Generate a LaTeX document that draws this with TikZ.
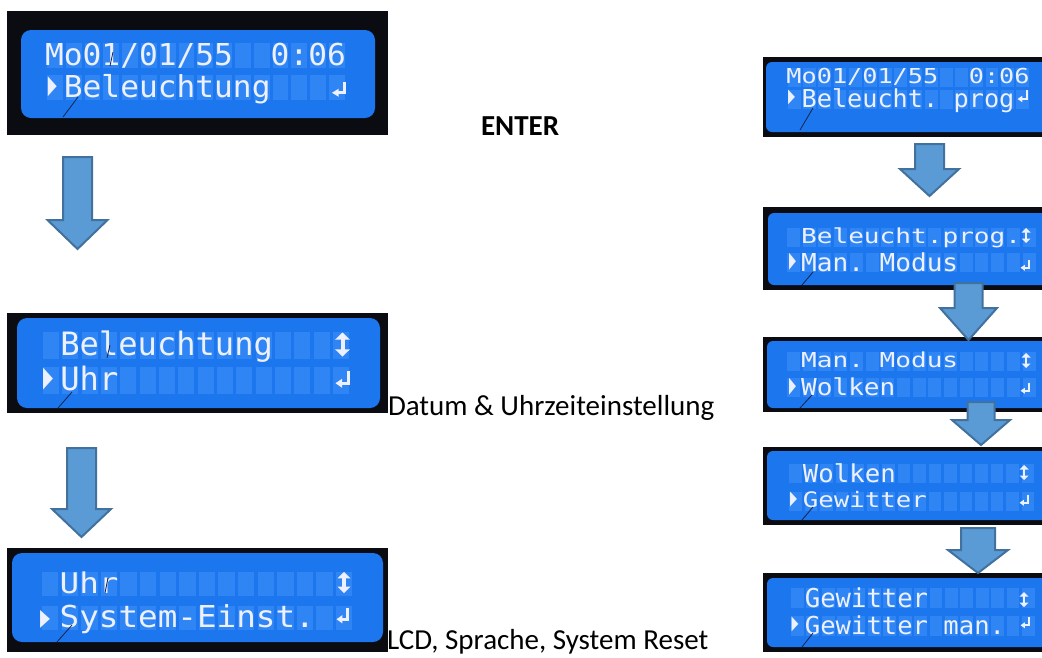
\documentclass[tikz,border=0pt]{standalone}
\usepackage{fontspec}
\usepackage{graphicx}
\setmainfont{Carlito}
\newfontfamily\lcdfont{DejaVu Sans Mono}
\newfontfamily\lcdsym{DejaVu Sans}
\definecolor{bezel}{HTML}{0B0B12}
\definecolor{lcdbg}{HTML}{1C76EE}
\definecolor{lcdcell}{HTML}{2F85F3}
\definecolor{lcdtxt}{HTML}{ECF0FF}
\definecolor{arrowfill}{HTML}{5B9BD5}
\definecolor{arrowline}{HTML}{41719C}
\definecolor{scratchc}{HTML}{14244A}
\def\pnR{8}
% panel: name, bezel x1,y1,x2,y2, screen x1,y1,x2,y2
\newcommand\panel[9]{%
  \node[bezelbox, minimum width={#4-#2}, minimum height={#5-#3}] (#1) at ({(#2+#4)/2},{(#3+#5)/2}) {};
  \node[screenbox, minimum width={#8-#6}, minimum height={#9-#7}] (#1s) at ({(#6+#8)/2},{(#7+#9)/2}) {};}
% cell grid: x0, pitch, cell width, top row1, top row2, cell height
\newcommand\cellgrid[6]{%
  \foreach \c in {0,...,15}{%
    \fill[lcdcell] ({#1+\c*#2},#4) rectangle ++(#3,#6);
    \fill[lcdcell] ({#1+\c*#2},#5) rectangle ++(#3,#6);}}
% lcd text: name, column, baseline, yscale, text
\newcommand\lcdat[5]{%
  \node[lcdtext] (#1) at ({\pnX+#2*\pnP-0.6*\pnS},#3) {\scalebox{\pnS}[#4]{#5}};}
% lcd glyph: name, cx, cy, w, h, glyph
\newcommand\lcdglyph[6]{%
  \node[lcdg] (#1) at (#2,#3) {\resizebox*{#4pt}{#5pt}{\lcdsym #6}};}
% return symbol: cx, cy, w, h, line width
\newcommand\retsym[5]{%
  \draw[lcdline, line width=#5pt] ({#1+#3/2-#5/2},{#2-#4/2}) -- ({#1+#3/2-#5/2},{#2+#4/4})
     -- ({#1-#3/2+#3*0.4},{#2+#4/4});
  \fill[lcdtxt] ({#1-#3/2},{#2+#4/4}) -- ({#1-#3/2+#3*0.48},{#2+#4/4-#4*0.27})
     -- ({#1-#3/2+#3*0.48},{#2+#4/4+#4*0.27}) -- cycle;}
% up-down symbol: cx, cy, w, h, line width
\newcommand\udsym[5]{%
  \fill[lcdtxt] ({#1-#3/2},{#2-#4/2+#4*0.3}) -- (#1,{#2-#4/2}) -- ({#1+#3/2},{#2-#4/2+#4*0.3}) -- cycle;
  \fill[lcdtxt] ({#1-#3/2},{#2+#4/2-#4*0.3}) -- (#1,{#2+#4/2}) -- ({#1+#3/2},{#2+#4/2-#4*0.3}) -- cycle;
  \draw[lcdline, line width=#5pt] (#1,{#2-#4/2+#4*0.25}) -- (#1,{#2+#4/2-#4*0.25});}
% block arrow: cx, top, shaft half width, head y, head half width, tip y
\newcommand\blockarrow[6]{%
  \draw[blockarr] ({#1-#3},#2) -- ({#1+#3},#2) -- ({#1+#3},#4) -- ({#1+#5},#4)
    -- (#1,#6) -- ({#1-#5},#4) -- ({#1-#3},#4) -- cycle;}
\begin{document}
\begin{tikzpicture}[x=1pt,y=-1pt,
  bezelbox/.style={rectangle, fill=bezel, draw=none, inner sep=0pt, outer sep=0pt},
  screenbox/.style={rectangle, fill=lcdbg, draw=none, inner sep=0pt, outer sep=0pt, rounded corners=\pnR},
  lcdtext/.style={anchor=base west, inner sep=0pt, outer sep=0pt, text=lcdtxt, font=\lcdfont\fontsize{10}{12}\selectfont},
  lcdg/.style={anchor=center, inner sep=0pt, outer sep=0pt, text=lcdtxt, font=\fontsize{10}{12}\selectfont},
  lcdline/.style={draw=lcdtxt, line cap=butt, line join=miter},
  scratch/.style={draw=scratchc, line width=0.8pt},
  blockarr/.style={fill=arrowfill, draw=arrowline, line width=2pt, line join=miter},
  lbl/.style={anchor=base west, inner sep=0pt, outer sep=0pt, text=black, font=\fontsize{29}{35}\selectfont}]
\useasboundingbox (0,0) rectangle (1042,657);
\fill[white] (0,0) rectangle (1042,657);

% ---------- Left panel 1 ----------
\def\pnR{10}
\panel{p1}{7}{11}{388}{135}{21}{30}{375}{118}
\cellgrid{47}{18.8}{15.7}{43}{75}{25}
\def\pnX{47}\def\pnP{18.8}\def\pnS{3.12}
\lcdat{p1a}{0}{65}{3.02}{Mo01/01/55}
\lcdat{p1b}{12}{65}{3.02}{0:06}
\lcdat{p1c}{1}{97}{3.02}{Beleuchtung}
\lcdglyph{p1d}{52.5}{87}{9}{20}{▶}
\retsym{339}{89}{14}{15}{3}
\draw[scratch] (78,97) -- (63,117);
\draw[scratch] (113,52) -- (110,66);

% ---------- Left panel 2 ----------
\panel{p2}{7}{313}{388}{413}{17}{318}{380}{408}
\cellgrid{43}{19.33}{16.1}{331.5}{366.5}{27}
\def\pnX{43}\def\pnP{19.33}\def\pnS{3.21}
\lcdat{p2a}{1}{355}{3.22}{Beleuchtung}
\lcdat{p2b}{1}{390}{3.22}{Uhr}
\lcdglyph{p2c}{48}{379}{10}{22}{▶}
\udsym{342.5}{344.5}{15}{24}{4}
\retsym{342.5}{379}{14}{17}{3}
\draw[scratch] (72,392) -- (58,408);
\draw[scratch] (110,345) -- (107,358);

% ---------- Left panel 3 ----------
\panel{p3}{7}{548}{388}{652}{12}{553}{383}{642}
\cellgrid{42}{19.6}{16.3}{572}{606}{24}
\def\pnX{42}\def\pnP{19.6}\def\pnS{3.26}
\lcdat{p3a}{1}{593}{2.85}{Uhr}
\lcdat{p3b}{1}{627}{3.02}{System-Einst.}
\lcdglyph{p3c}{45}{619}{10}{18}{▶}
\udsym{344}{582.5}{13}{21}{4}
\retsym{342.5}{615.5}{12}{15}{3}
\draw[scratch] (72,625) -- (57,642);
\draw[scratch] (108,578) -- (105,593);

% ---------- Right panel 1 ----------
\def\pnR{6}
\panel{r1}{763}{57}{1050}{137}{766}{62}{1050}{132}
\cellgrid{788}{15.2}{12.7}{68}{89.5}{19}
\def\pnX{788}\def\pnP{15.2}\def\pnS{2.52}
\lcdat{r1a}{0}{83}{2.06}{Mo01/01/55}
\lcdat{r1b}{12}{83}{2.06}{0:06}
\lcdat{r1c}{1}{107.5}{2.47}{Beleucht.}
\lcdat{r1d}{11}{107.5}{2.47}{prog}
\lcdglyph{r1e}{791.5}{97.5}{7}{15}{▶}
\retsym{1022.5}{96}{10}{12}{2}
\draw[scratch] (813,108) -- (800,130);

% ---------- Right panel 2 ----------
\panel{r2}{763}{207}{1050}{290}{768}{213}{1050}{285}
\cellgrid{787}{15.7}{13}{228}{253}{19}
\def\pnX{787}\def\pnP{15.7}\def\pnS{2.61}
\lcdat{r2a}{1}{243}{2.06}{Beleucht.prog.}
\lcdat{r2b}{1}{271}{2.47}{Man.}
\lcdat{r2c}{6}{271}{2.47}{Modus}
\lcdglyph{r2d}{792.5}{261.5}{7}{17}{▶}
\udsym{1026}{235.5}{9}{15}{2.5}
\retsym{1025}{265}{9}{11}{2}
\draw[scratch] (813,272) -- (802,285);

% ---------- Right panel 3 ----------
\panel{r3}{763}{337}{1050}{412}{767}{341}{1050}{408}
\cellgrid{787}{15.7}{13}{352}{378}{19}
\def\pnX{787}\def\pnP{15.7}\def\pnS{2.61}
\lcdat{r3a}{1}{367}{2.06}{Man.}
\lcdat{r3b}{6}{367}{2.06}{Modus}
\lcdat{r3c}{1}{395}{2.33}{Wolken}
\lcdglyph{r3d}{792.5}{386.5}{7}{17}{▶}
\udsym{1026}{360.5}{9}{15}{2.5}
\retsym{1025}{388}{9}{11}{2}
\draw[scratch] (812,395) -- (800,408);

% ---------- Right panel 4 ----------
\panel{r4}{763}{447}{1050}{525}{767}{451}{1050}{520}
\cellgrid{789}{15.5}{12.9}{464}{491.5}{19}
\def\pnX{789}\def\pnP{15.5}\def\pnS{2.57}
\lcdat{r4a}{1}{482}{2.47}{Wolken}
\lcdat{r4b}{1}{507}{2.13}{Gewitter}
\lcdglyph{r4c}{793.5}{499.5}{7}{15}{▶}
\udsym{1024}{472.5}{9}{15}{2.5}
\retsym{1024}{500}{9}{11}{2}
\draw[scratch] (813,507) -- (802,520);

% ---------- Right panel 5 ----------
\panel{r5}{763}{573}{1050}{652}{767}{578}{1050}{647}
\cellgrid{791}{15.4}{12.8}{588}{616}{20}
\def\pnX{791}\def\pnP{15.4}\def\pnS{2.56}
\lcdat{r5a}{1}{607}{2.6}{Gewitter}
\lcdat{r5b}{1}{634}{2.47}{Gewitter}
\lcdat{r5c}{10}{634}{2.47}{man.}
\lcdglyph{r5d}{795}{624.5}{7}{15}{▶}
\udsym{1024}{599.5}{9}{15}{2.5}
\retsym{1025}{622.5}{9}{11}{2}
\draw[scratch] (813,633) -- (802,647);

% ---------- Block arrows ----------
\blockarrow{77.5}{157}{14.5}{220}{30}{249}
\blockarrow{81.5}{448}{14.5}{509}{29.5}{537}
\blockarrow{929.5}{144}{14.5}{169}{29.5}{196}
\blockarrow{968.5}{283}{14}{308}{28.5}{340}
\blockarrow{981}{402}{13.5}{420}{29}{445}
\blockarrow{978}{528}{17}{550}{30}{573}

% ---------- Labels ----------
\node[lbl] (enter) at (481,135) {\bfseries ENTER};
\node[lbl] (datum) at (388,415) {Datum \& Uhrzeiteinstellung};
\node[lbl] (lcdset) at (387,649) {LCD, Sprache, System Reset};
\end{tikzpicture}
\end{document}
